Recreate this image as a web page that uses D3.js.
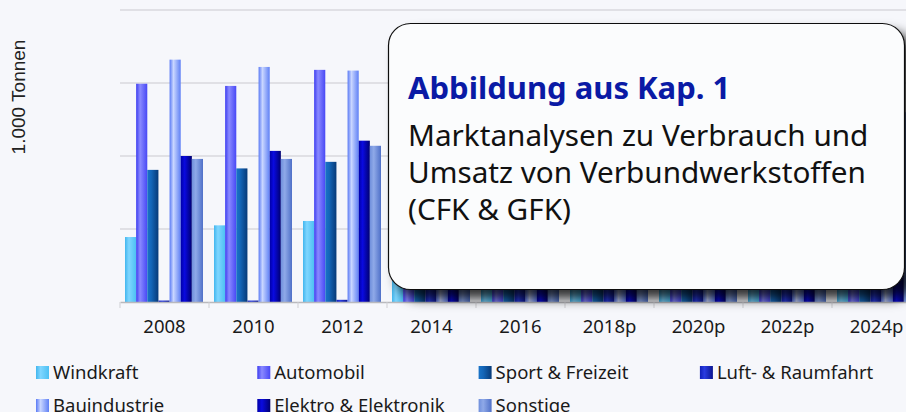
<!DOCTYPE html>
<html>
<head>
<meta charset="utf-8">
<script src="https://d3js.org/d3.v7.min.js"></script>
<style>
  html, body { margin: 0; padding: 0; background: #f6f7fb; }
  #chart { width: 906px; height: 412px; overflow: hidden; }
  .tick-label { font-family: "Noto Sans", "Open Sans", sans-serif; font-size: 18.5px; fill: #1a1a1a; }
  .legend-label { font-family: "Noto Sans", "Open Sans", sans-serif; font-size: 18.5px; fill: #1a1a1a; }
  .y-title { font-family: "Liberation Sans", Arial, sans-serif; font-size: 19px; fill: #222; }
  .grid line { stroke: #d9d9de; stroke-width: 1.3; }
  .box-title { font-family: "Noto Sans", "Open Sans", sans-serif; font-size: 31px; font-weight: 700; fill: #0a1aa5; }
  .box-text { font-family: "Noto Sans", "Open Sans", sans-serif; font-size: 29.7px; fill: #111; }
</style>
</head>
<body>
<div id="chart"></div>
<script>
// Data (1.000 Tonnen; later years sit behind the overlay box)
var years = ["2008", "2010", "2012", "2014", "2016", "2018p", "2020p", "2022p", "2024p"];
var seriesNames = ["Windkraft", "Automobil", "Sport & Freizeit", "Luft- & Raumfahrt",
                   "Bauindustrie", "Elektro & Elektronik", "Sonstige"];

var windkraft  = [89, 105, 111, 120, 130, 140, 150, 160, 170];
var automobil  = [299, 296, 318, 320, 330, 340, 350, 360, 365];
var sport      = [181, 183, 192, 200, 208, 215, 222, 230, 238];
var luftfahrt  = [2, 2, 3, 30, 35, 40, 45, 50, 55];
var bau        = [332, 322, 317, 320, 328, 336, 344, 352, 360];
var elektro    = [200, 207, 221, 230, 240, 250, 260, 270, 280];
var sonstige   = [196, 196, 214, 220, 228, 236, 244, 252, 260];

var yTicks = [0, 100, 200, 300, 400];

var seriesValues = [windkraft, automobil, sport, luftfahrt, bau, elektro, sonstige];

// colours: [edge, highlight, dark edge] for the cylinder-ish shading
var colours = [
    ["#42b6ee", "#7fd6ff", "#4cc0f3"],
    ["#3c3cf0", "#8a8aff", "#4848f5"],
    ["#1a74c8", "#1466b8", "#073a78"],
    ["#1020b8", "#2a3ce0", "#0a1590"],
    ["#5a7af5", "#c9d6ff", "#5f80f5"],
    ["#0000a8", "#0a0ae0", "#000070"],
    ["#6f8fdc", "#8fa9e8", "#4f70c8"]
];

var w = 906, h = 412;
var plotLeft = 120, plotTop = 10, plotBottom = 302;
var bandW = 89;

var svg = d3.select("#chart").append("svg")
    .attr("width", w)
    .attr("height", h);

var defs = svg.append("defs");

colours.forEach(function(c, i) {
    var g = defs.append("linearGradient")
        .attr("id", "grad" + i)
        .attr("x1", "0%").attr("x2", "100%")
        .attr("y1", "0%").attr("y2", "0%");
    g.append("stop").attr("offset", "0%").attr("stop-color", c[0]);
    g.append("stop").attr("offset", "35%").attr("stop-color", c[1]);
    g.append("stop").attr("offset", "100%").attr("stop-color", c[2]);
});

var shadow = defs.append("filter")
    .attr("id", "boxShadow")
    .attr("x", "-10%").attr("y", "-10%")
    .attr("width", "130%").attr("height", "140%");
shadow.append("feDropShadow")
    .attr("dx", 9).attr("dy", 9)
    .attr("stdDeviation", 6)
    .attr("flood-color", "#000")
    .attr("flood-opacity", 0.8);

// scales
var xScale = d3.scaleBand()
    .domain(years)
    .range([plotLeft, plotLeft + bandW * years.length]);

var xInner = d3.scaleBand()
    .domain(d3.range(seriesNames.length))
    .range([5, 83]);

var yScale = d3.scaleLinear()
    .domain([0, 400])
    .range([plotBottom, plotTop]);

// gridlines
svg.append("g")
    .attr("class", "grid")
    .selectAll("line")
    .data(yTicks.slice(1))
    .enter().append("line")
    .attr("x1", plotLeft)
    .attr("x2", w)
    .attr("y1", d => yScale(d))
    .attr("y2", d => yScale(d));

// bars
var groups = svg.append("g").selectAll("g")
    .data(years)
    .enter().append("g")
    .attr("transform", d => "translate(" + xScale(d) + ",0)");

groups.selectAll("rect")
    .data(function(d, yi) {
        return seriesValues.map(function(vals, si) { return { s: si, v: vals[yi] }; });
    })
    .enter().append("rect")
    .attr("x", d => xInner(d.s))
    .attr("width", xInner.bandwidth())
    .attr("y", d => yScale(d.v))
    .attr("height", d => yScale(0) - yScale(d.v))
    .attr("fill", d => "url(#grad" + d.s + ")");

// x axis
var xAxis = svg.append("g")
    .attr("transform", "translate(0," + plotBottom + ")")
    .call(d3.axisBottom(xScale).tickSize(0).tickPadding(18));
xAxis.select(".domain").attr("stroke", "#b9b9bd").attr("stroke-width", 1.3);
xAxis.selectAll("text").attr("class", "tick-label").attr("font-size", null).attr("font-family", null);

svg.append("g").selectAll("line")
    .data(years)
    .enter().append("line")
    .attr("x1", d => xScale(d))
    .attr("x2", d => xScale(d))
    .attr("y1", plotBottom)
    .attr("y2", plotBottom + 6)
    .attr("stroke", "#cfcfd3");

// y axis title
svg.append("text")
    .attr("class", "y-title")
    .attr("transform", "translate(25,97) rotate(-90)")
    .attr("text-anchor", "middle")
    .text("1.000 Tonnen");

// legend
var legend = svg.append("g").selectAll("g")
    .data(seriesNames)
    .enter().append("g")
    .attr("transform", (d, i) => "translate(" + (36 + (i % 4) * 221.3) + "," + (366 + Math.floor(i / 4) * 33) + ")");

legend.append("rect")
    .attr("width", 13)
    .attr("height", 13)
    .attr("fill", (d, i) => "url(#grad" + i + ")");

legend.append("text")
    .attr("class", "legend-label")
    .attr("x", 17)
    .attr("y", 13)
    .text(d => d);

// overlay box
var box = svg.append("g");
box.append("rect")
    .attr("x", 388.5)
    .attr("y", 23.5)
    .attr("width", 516)
    .attr("height", 266)
    .attr("rx", 22)
    .attr("fill", "#fbfcfd")
    .attr("stroke", "#111")
    .attr("stroke-width", 1.2)
    .attr("filter", "url(#boxShadow)");

box.append("text")
    .attr("class", "box-title")
    .attr("x", 408)
    .attr("y", 99)
    .text("Abbildung aus Kap. 1");

var lines = ["Marktanalysen zu Verbrauch und", "Umsatz von Verbundwerkstoffen", "(CFK & GFK)"];
box.selectAll(".box-text")
    .data(lines)
    .enter().append("text")
    .attr("class", "box-text")
    .attr("x", 408)
    .attr("y", (d, i) => 146 + i * 37)
    .text(d => d);
</script>
</body>
</html>
